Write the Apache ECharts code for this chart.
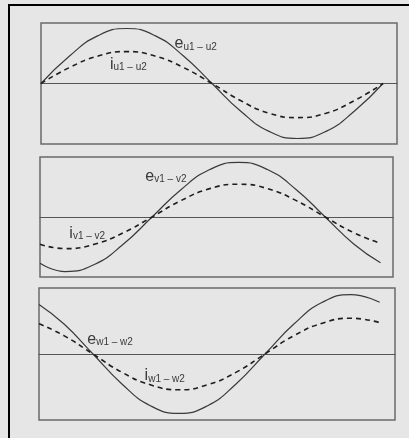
<!DOCTYPE html>
<html>
<head>
<meta charset="utf-8">
<script src="https://cdn.jsdelivr.net/npm/echarts@6/dist/echarts.min.js"></script>
<style>
  html, body { margin: 0; padding: 0; background: #e6e6e6; }
  #chart { width: 409px; height: 438px; }
</style>
</head>
<body>
<div id="chart"></div>
<script>
// angle (deg) sampled along each panel, values normalised to e amplitude
const ang1 = [0, 30, 60, 90, 120, 150, 180, 210, 240, 270, 300, 330, 360];
const e1 = [0, 0.5, 0.87, 1.0, 0.87, 0.5, 0, -0.5, -0.87, -1.0, -0.87, -0.5, 0];
const i1 = [0, 0.29, 0.5, 0.58, 0.5, 0.29, 0, -0.31, -0.54, -0.62, -0.54, -0.31, 0];

const ang2 = [0, 26.5, 56.5, 86.5, 116.5, 146.5, 176.5, 206.5, 236.5, 266.5, 296.5, 326.5, 354];
const e2 = [-0.85, -1.0, -0.87, -0.5, 0, 0.5, 0.87, 1.0, 0.87, 0.5, 0, -0.5, -0.84];
const i2 = [-0.5, -0.58, -0.5, -0.29, 0, 0.3, 0.52, 0.6, 0.52, 0.3, 0, -0.29, -0.48];

const ang3 = [0, 26.5, 56.5, 86.5, 116.5, 146.5, 176.5, 206.5, 236.5, 266.5, 296.5, 326.5, 356.5];
const e3 = [0.9, 0.54, 0, -0.54, -0.94, -1.08, -0.94, -0.54, 0, 0.54, 0.94, 1.08, 0.94];
const i3 = [0.55, 0.33, 0, -0.33, -0.56, -0.65, -0.56, -0.33, 0, 0.33, 0.56, 0.65, 0.57];

const labels = [
  ["e", "u1 – u2"], ["i", "u1 – u2"],
  ["e", "v1 – v2"], ["i", "v1 – v2"],
  ["e", "w1 – w2"], ["i", "w1 – w2"]
];

const pairs = (xs, ys) => xs.map((x, k) => [x, ys[k]]);

const labelMark = (lab, coord) => ({
  symbol: "circle",
  symbolSize: 1,
  itemStyle: { color: "rgba(0,0,0,0)" },
  label: {
    show: true,
    position: "right",
    distance: 0,
    formatter: "{m|" + lab[0] + "}{s|" + lab[1] + "}",
    rich: {
      m: { fontSize: 16, color: "#3a3a3a", fontFamily: "Liberation Sans", lineHeight: 16, verticalAlign: "bottom" },
      s: { fontSize: 10, color: "#3a3a3a", fontFamily: "Liberation Sans", lineHeight: 11, verticalAlign: "bottom" }
    }
  },
  data: [{ coord: coord }]
});

const grids = [
  { left: 41, top: 23, width: 356, height: 121 },
  { left: 40, top: 157, width: 353, height: 120 },
  { left: 39, top: 288, width: 356, height: 132 }
].map(g => Object.assign(g, { show: true, borderColor: "#6a6a6a", borderWidth: 1.5, backgroundColor: "transparent" }));

const xMax = [374.7, 367, 372.6];
const yLim = [1.1, 1.1, 1.2];

const xAxes = xMax.map((m, k) => ({
  type: "value", gridIndex: k, min: 0, max: m,
  axisLine: { show: true, onZero: true, lineStyle: { color: "#555", width: 1.2 } },
  axisTick: { show: false }, axisLabel: { show: false }, splitLine: { show: false }
}));
const yAxes = yLim.map((l, k) => ({
  type: "value", gridIndex: k, min: -l, max: l,
  axisLine: { show: false }, axisTick: { show: false }, axisLabel: { show: false }, splitLine: { show: false }
}));

const solid = { color: "#3a3a3a", width: 1.2 };
const dashed = { color: "#1e1e1e", width: 1.6, type: [5, 4] };

const mk = (k, xs, ys, style, lab, coord) => ({
  type: "line", xAxisIndex: k, yAxisIndex: k,
  data: pairs(xs, ys), smooth: true, symbol: "none",
  lineStyle: style, silent: true, animation: false,
  markPoint: labelMark(lab, coord)
});

let myChart = echarts.init(document.getElementById("chart"));
myChart.setOption({
  backgroundColor: "#e6e6e6",
  animation: false,
  grid: grids,
  xAxis: xAxes,
  yAxis: yAxes,
  graphic: [
    { type: "line", shape: { x1: 8, y1: 5, x2: 409, y2: 5 }, style: { stroke: "#000", lineWidth: 2 } },
    { type: "line", shape: { x1: 9, y1: 4, x2: 9, y2: 438 }, style: { stroke: "#000", lineWidth: 2 } }
  ],
  series: [
    mk(0, ang1, e1, solid, labels[0], [140, 0.72]),
    mk(0, ang1, i1, dashed, labels[1], [72, 0.35]),
    mk(1, ang2, e2, solid, labels[2], [109, 0.74]),
    mk(1, ang2, i2, dashed, labels[3], [30, -0.3]),
    mk(2, ang3, e3, solid, labels[4], [50, 0.27]),
    mk(2, ang3, i3, dashed, labels[5], [110, -0.4])
  ]
});
</script>
</body>
</html>
